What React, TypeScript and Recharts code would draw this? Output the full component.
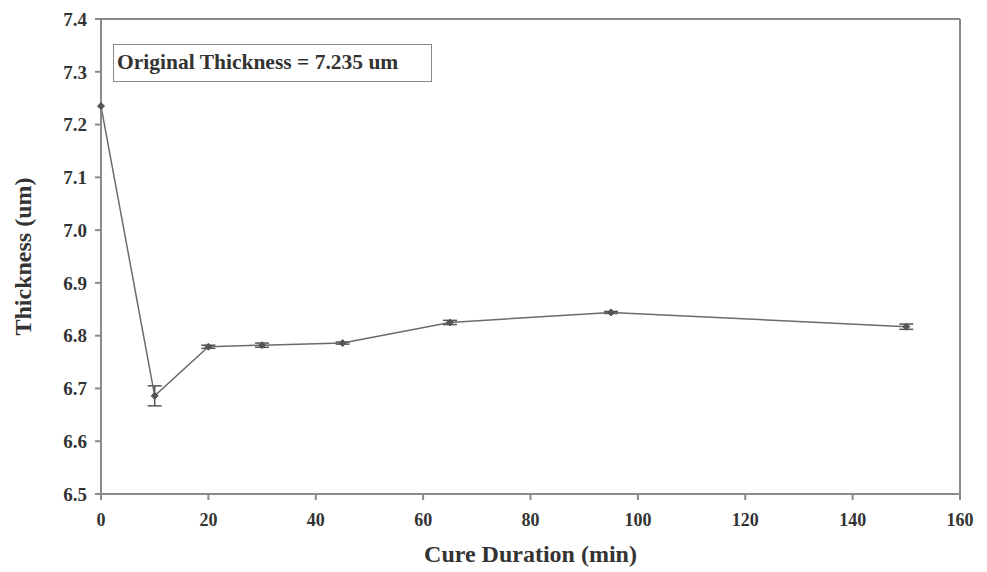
import {
  ComposedChart,
  Line,
  XAxis,
  YAxis,
  ErrorBar,
  ReferenceLine,
} from "recharts";

// cure duration (min) vs film thickness (um)
const cureMinutes = [0, 10, 20, 30, 45, 65, 95, 150];
const thickness = [7.235, 6.686, 6.779, 6.782, 6.786, 6.825, 6.844, 6.817];
const thicknessErr = [0, 0.019, 0.003, 0.004, 0.002, 0.004, 0.002, 0.005];

const xTicks = [0, 20, 40, 60, 80, 100, 120, 140, 160];
const yTicks = [6.5, 6.6, 6.7, 6.8, 6.9, 7.0, 7.1, 7.2, 7.3, 7.4];

const data = cureMinutes.map((m, i) => ({
  minutes: m,
  thickness: thickness[i],
  err: thicknessErr[i],
}));

const font = "'Liberation Serif', 'Times New Roman', serif";
const axisColor = "#8a8a8a";

const Diamond = (props: any) => {
  const { cx, cy } = props;
  if (cx == null || cy == null) return null;
  const r = 3.5;
  return (
    <polygon
      points={`${cx},${cy - r} ${cx + r},${cy} ${cx},${cy + r} ${cx - r},${cy}`}
      fill="#555"
      stroke="#555"
    />
  );
};

export default function App() {
  return (
    <div style={{ position: "absolute", left: 0, top: 0, width: 987, height: 572, background: "#fff" }}>
      <ComposedChart
        width={987}
        height={572}
        data={data}
        margin={{ top: 19, right: 27, left: 0, bottom: 0 }}
      >
        <XAxis
          dataKey="minutes"
          type="number"
          domain={[0, 160]}
          ticks={xTicks}
          height={78}
          stroke={axisColor}
          strokeWidth={2}
          tickSize={6}
          tick={{ fill: "#333", fontFamily: font, fontWeight: "bold", fontSize: 18, dy: 11 }}
          label={{
            value: "Cure Duration (min)",
            position: "insideBottom",
            offset: 10,
            style: { fill: "#333", fontFamily: font, fontWeight: "bold", fontSize: 24 },
          }}
        />
        <YAxis
          type="number"
          domain={[6.5, 7.4]}
          ticks={yTicks}
          width={101}
          stroke={axisColor}
          strokeWidth={2}
          tickSize={6}
          tickFormatter={(v: number) => v.toFixed(1)}
          tick={{ fill: "#333", fontFamily: font, fontWeight: "bold", fontSize: 19, dx: -6 }}
          label={{
            value: "Thickness (um)",
            angle: -90,
            position: "insideLeft",
            offset: 22,
            style: { fill: "#333", fontFamily: font, fontWeight: "bold", fontSize: 24, textAnchor: "middle" },
          }}
        />
        <ReferenceLine y={7.4} stroke={axisColor} strokeWidth={2} />
        <ReferenceLine x={160} stroke={axisColor} strokeWidth={2} />
        <Line
          dataKey="thickness"
          stroke="#6a6a6a"
          strokeWidth={1.5}
          dot={<Diamond />}
          activeDot={false}
          isAnimationActive={false}
        >
          <ErrorBar dataKey="err" width={7} stroke="#555" strokeWidth={1.5} />
        </Line>
      </ComposedChart>
      <div
        style={{
          position: "absolute",
          left: 113,
          top: 44,
          width: 319,
          height: 38,
          border: "1.5px solid #8a8a8a",
          fontFamily: font,
          fontWeight: "bold",
          fontSize: 21.5,
          color: "#333",
          lineHeight: "35px",
          paddingLeft: 3,
          boxSizing: "border-box",
          background: "#fff",
          whiteSpace: "nowrap",
        }}
      >
        Original Thickness = 7.235 um
      </div>
    </div>
  );
}
